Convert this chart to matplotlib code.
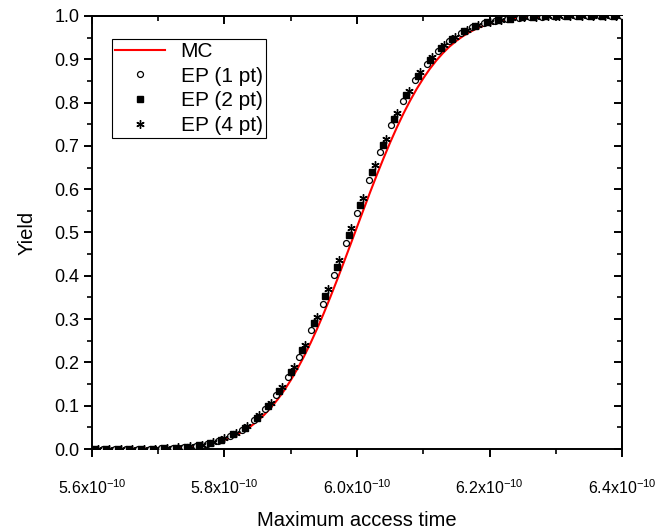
import matplotlib
matplotlib.use("Agg")
import matplotlib.pyplot as plt
from matplotlib.ticker import MultipleLocator, NullFormatter

plt.rcParams["font.family"] = ["Liberation Sans", "DejaVu Sans"]
plt.rcParams["mathtext.fontset"] = "custom"
plt.rcParams["mathtext.rm"] = "Liberation Sans"

# Daten (x in Einheiten von 1e-10)
mc_x = [5.60, 5.65, 5.70, 5.71, 5.72, 5.73, 5.74, 5.75, 5.76, 5.77, 5.78, 5.79,
        5.80, 5.81, 5.82, 5.83, 5.84, 5.85, 5.86, 5.87, 5.88, 5.89, 5.90, 5.91,
        5.92, 5.93, 5.94, 5.95, 5.96, 5.97, 5.98, 5.99, 6.00, 6.01, 6.02, 6.03,
        6.04, 6.05, 6.06, 6.07, 6.08, 6.09, 6.10, 6.11, 6.12, 6.13, 6.14, 6.15,
        6.16, 6.17, 6.18, 6.19, 6.20, 6.21, 6.22, 6.23, 6.24, 6.25, 6.26, 6.27,
        6.28, 6.30, 6.35, 6.40]
mc_y = [0.0000, 0.0002, 0.0011, 0.0015, 0.0021, 0.0030, 0.0040, 0.0054, 0.0073,
        0.0096, 0.0126, 0.0164, 0.0211, 0.0269, 0.0340, 0.0425, 0.0527, 0.0649,
        0.0790, 0.0953, 0.1139, 0.1350, 0.1587, 0.1849, 0.2136, 0.2448, 0.2783,
        0.3139, 0.3516, 0.3905, 0.4305, 0.4713, 0.5124, 0.5533, 0.5937, 0.6331,
        0.6711, 0.7076, 0.7420, 0.7742, 0.8039, 0.8312, 0.8558, 0.8780, 0.8976,
        0.9148, 0.9298, 0.9426, 0.9535, 0.9628, 0.9704, 0.9767, 0.9818, 0.9860,
        0.9892, 0.9918, 0.9939, 0.9954, 0.9966, 0.9976, 0.9982, 0.9991, 0.9999,
        1.0000]

ep1_x = [5.600, 5.617, 5.635, 5.652, 5.670, 5.687, 5.704, 5.722, 5.739, 5.757,
         5.774, 5.791, 5.809, 5.826, 5.844, 5.861, 5.878, 5.896, 5.913, 5.931,
         5.948, 5.965, 5.983, 6.000, 6.018, 6.035, 6.052, 6.070, 6.087, 6.105,
         6.122, 6.139, 6.157, 6.174, 6.192, 6.209, 6.226, 6.244, 6.261, 6.279,
         6.296, 6.313, 6.331, 6.348, 6.366, 6.383, 6.400]
ep1_y = [0.0, 0.0, 0.0001, 0.0002, 0.0005, 0.0008, 0.0015, 0.0027, 0.0046,
         0.0077, 0.0126, 0.0196, 0.0303, 0.0445, 0.0662, 0.0918, 0.124, 0.166,
         0.2136, 0.275, 0.336, 0.4024, 0.475, 0.545, 0.621, 0.686, 0.7486,
         0.804, 0.851, 0.890, 0.9196, 0.9426, 0.961, 0.9737, 0.9832, 0.9892,
         0.9933, 0.9961, 0.9977, 0.9987, 0.9993, 0.9996, 0.9998, 0.9999, 1.0,
         1.0, 1.0]

ep2_x = [5.6045, 5.6215, 5.6395, 5.6565, 5.6745, 5.6915, 5.7085, 5.7265, 5.7435,
         5.7615, 5.7785, 5.7955, 5.8135, 5.8305, 5.8485, 5.8655, 5.8825, 5.9005,
         5.9175, 5.9355, 5.9525, 5.9695, 5.9875, 6.0045, 6.0225, 6.0395, 6.0565,
         6.0745, 6.0915, 6.1095, 6.1265, 6.1435, 6.1615, 6.1785, 6.1965, 6.2135,
         6.2305, 6.2485, 6.2655, 6.2835, 6.3005, 6.3175, 6.3355, 6.3525, 6.3705,
         6.3875]
ep2_y = [0.0, 0.0, 0.0001, 0.0002, 0.0005, 0.0010, 0.0017, 0.0031, 0.0052,
         0.0087, 0.0142, 0.0219, 0.0336, 0.0490, 0.0723, 0.0996, 0.1339, 0.178,
         0.2275, 0.2905, 0.3535, 0.4203, 0.494, 0.5635, 0.6387, 0.7023, 0.763,
         0.8165, 0.8617, 0.8985, 0.9263, 0.9478, 0.9648, 0.9764, 0.985, 0.9905,
         0.9941, 0.9966, 0.998, 0.9989, 0.9994, 0.9997, 0.9998, 0.9999, 1.0, 1.0]

ep4_x = [5.6086, 5.6256, 5.6436, 5.6606, 5.6786, 5.6956, 5.7126, 5.7306, 5.7476,
         5.7656, 5.7826, 5.7996, 5.8176, 5.8346, 5.8526, 5.8696, 5.8866, 5.9046,
         5.9216, 5.9396, 5.9566, 5.9736, 5.9916, 6.0086, 6.0266, 6.0436, 6.0606,
         6.0786, 6.0956, 6.1136, 6.1306, 6.1476, 6.1656, 6.1826, 6.2006, 6.2176,
         6.2346, 6.2526, 6.2696, 6.2876, 6.3046, 6.3216, 6.3396, 6.3566, 6.3746,
         6.3916]
ep4_y = [0.0, 0.0, 0.0001, 0.0003, 0.0006, 0.0011, 0.0020, 0.0035, 0.0059,
         0.0098, 0.0159, 0.0243, 0.0369, 0.0535, 0.0784, 0.1073, 0.1432, 0.1894,
         0.2404, 0.3054, 0.3692, 0.4368, 0.5107, 0.580, 0.6547, 0.7167, 0.776,
         0.8274, 0.8707, 0.9057, 0.932, 0.9521, 0.968, 0.9787, 0.9865, 0.9916,
         0.9948, 0.997, 0.9983, 0.9991, 0.9995, 0.9997, 0.9999, 1.0, 1.0, 1.0]

x_ticks = [5.6, 5.8, 6.0, 6.2, 6.4]
x_ticklabels = [r"5.6x10$^{\mathregular{-10}}$", r"5.8x10$^{\mathregular{-10}}$",
                r"6.0x10$^{\mathregular{-10}}$", r"6.2x10$^{\mathregular{-10}}$",
                r"6.4x10$^{\mathregular{-10}}$"]
y_ticks = [0.0, 0.1, 0.2, 0.3, 0.4, 0.5, 0.6, 0.7, 0.8, 0.9, 1.0]

fig = plt.figure(figsize=(6.66, 5.32), dpi=100)
ax = fig.add_axes([0.138, 0.156, 0.796, 0.814])

ax.plot(mc_x, mc_y, color="red", lw=1.5, label="MC", zorder=2)
ax.plot(ep1_x, ep1_y, ls="none", marker="o", ms=4.3, mfc="white", mec="black",
        mew=0.9, label="EP (1 pt)", zorder=3)
ax.plot(ep2_x, ep2_y, ls="none", marker="s", ms=3.8, mfc="black", mec="black",
        label="EP (2 pt)", zorder=3)
ax.plot(ep4_x, ep4_y, ls="none", marker=(6, 2, 0), ms=6, mec="black",
        mew=1.0, label="EP (4 pt)", zorder=3)

ax.set_xlim(5.6, 6.4)
ax.set_ylim(0, 1.0)
ax.set_xticks(x_ticks)
ax.set_xticklabels(x_ticklabels)
ax.set_yticks(y_ticks)
ax.set_yticklabels([f"{v:.1f}" for v in y_ticks])
ax.xaxis.set_minor_locator(MultipleLocator(0.1))
ax.yaxis.set_minor_locator(MultipleLocator(0.05))

for sp in ax.spines.values():
    sp.set_linewidth(1.4)
ax.tick_params(which="major", direction="out", length=6, width=1.4)
ax.tick_params(which="minor", direction="out", length=3.5, width=1.2)
ax.tick_params(axis="x", which="major", labelsize=11.5, pad=15)
ax.tick_params(axis="y", which="major", labelsize=13, pad=3)

# Spiegel-Ticks oben und rechts (nach innen)
top = ax.secondary_xaxis("top")
top.set_xticks(x_ticks)
top.xaxis.set_minor_locator(MultipleLocator(0.1))
top.xaxis.set_major_formatter(NullFormatter())
top.tick_params(which="major", direction="in", length=6, width=1.4)
top.tick_params(which="minor", direction="in", length=3.5, width=1.2)
top.spines["top"].set_linewidth(1.4)

right = ax.secondary_yaxis("right")
right.set_yticks(y_ticks)
right.yaxis.set_minor_locator(MultipleLocator(0.05))
right.yaxis.set_major_formatter(NullFormatter())
right.tick_params(which="major", direction="in", length=6, width=1.4)
right.tick_params(which="minor", direction="in", length=3.5, width=1.2)
right.spines["right"].set_linewidth(1.4)

ax.set_xlabel("Maximum access time", fontsize=14.5, labelpad=10)
ax.set_ylabel("Yield", fontsize=14.5, labelpad=13)

leg = ax.legend(loc="upper left", bbox_to_anchor=(0.0377, 0.947), borderaxespad=0,
                fontsize=15, frameon=True, fancybox=False, edgecolor="black",
                framealpha=1, handlelength=2.4, borderpad=0.15, labelspacing=0.27,
                handletextpad=0.75)
leg.get_frame().set_linewidth(0.8)

fig.savefig("out.png", dpi=100)
